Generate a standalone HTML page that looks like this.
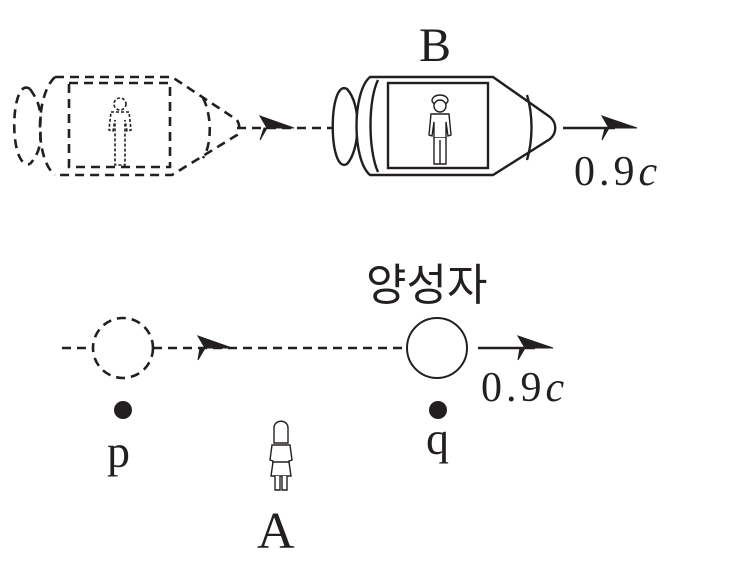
<!DOCTYPE html>
<html><head><meta charset="utf-8"><style>
html,body{margin:0;padding:0;background:#fff}
svg{display:block}
text{fill:#231f20}
</style></head><body>
<svg width="735" height="574" viewBox="0 0 735 574" xmlns="http://www.w3.org/2000/svg">
<g fill="none" stroke="#231f20" stroke-width="2.6" stroke-dasharray="9,6">
  <path d="M30 89 C10 75 8 170 30 164"/>
  <path d="M30 89 C38 100 42 110 40 127 C42 145 38 155 30 164"/>
  <path d="M55 77 C35 95 35 160 55 175"/>
  <path d="M55 77 L172 77 L237 120 C240 125 240 131 237 135 L172 175 L55 175"/>
  <path d="M203 98 C212 115 212 145 203 158"/>
  <rect x="69" y="83" width="101" height="84"/>
  <path d="M237 128 L357 128"/>
  <path d="M62 348 L92 348"/>
  <circle cx="123" cy="348" r="30"/>
  <path d="M153 348 L405 348"/>
</g>
<g fill="none" stroke="#231f20" stroke-width="1.6" stroke-dasharray="3,2">
  <circle cx="120" cy="104" r="6"/>
  <path d="M111 112 L129 112 L131 130 L127 131 L125 120 L125 165 L115 165 L115 120 L113 131 L109 130 Z"/>
</g>
<path d="M264 128 L294 128 L260 116 L267 128 L260 140 Z" fill="#231f20" stroke="#231f20" stroke-width="1"/>
<path d="M200 348 L232 348 L198 336 L205 348 L198 360 Z" fill="#231f20" stroke="#231f20" stroke-width="1"/>
<g fill="none" stroke="#231f20" stroke-width="2.4">
  <path d="M347 89 C328 78 328 175 347 164 C360 150 362 105 347 89 Z" fill="#fff"/>
  <path d="M370 77 L493 77 L550 117 C557 123 557 133 550 139 L493 175 L370 175 C352 160 352 92 370 77 Z" fill="#fff"/>
  <path d="M378 80 C368 100 368 150 378 172"/>
  <path d="M527 95 C533 115 533 140 527 160"/>
  <rect x="388" y="83" width="100" height="85"/>
  <path d="M563 128 L615 128"/>
  <path d="M478 348 L535 348"/>
</g>
<path d="M605 128 L637 128 L602 116 L609 128 L602 140 Z" fill="#231f20" stroke="#231f20" stroke-width="1"/>
<path d="M520 348 L553 348 L518 336 L525 348 L518 360 Z" fill="#231f20" stroke="#231f20" stroke-width="1"/>
<g fill="#fff" stroke="#231f20" stroke-width="1.4">
  <path d="M432 101 C432 93 448 93 448 101 L446 104 L434 104 Z"/>
  <circle cx="440" cy="106" r="6"/>
  <path d="M431 114 L449 114 L451 135 L448 136 L446 122 L446 138 L434 138 L434 122 L432 136 L429 135 Z"/>
  <path d="M434 138 L434 164 L446 164 L446 138"/>
  <path d="M440 140 L440 164"/>
</g>
<circle cx="437" cy="348" r="30" fill="#fff" stroke="#231f20" stroke-width="2"/>
<circle cx="123" cy="410" r="9" fill="#231f20"/>
<circle cx="438" cy="410" r="9" fill="#231f20"/>
<g fill="#fff" stroke="#231f20" stroke-width="1.4">
  <path d="M274 443 L274 428 C274 419 288 419 288 428 L288 443 Z"/>
  <path d="M272 445 L290 445 L292 460 L289 461 L289 465 L273 465 L273 461 L270 460 Z"/>
  <path d="M273 462 L289 462 L291 476 L271 476 Z"/>
  <path d="M275 476 L275 490 L280 490 L280 476 M282 476 L282 490 L287 490 L287 476"/>
</g>
<g font-family="'Liberation Serif', serif" font-size="48">
  <text x="419" y="61">B</text>
  <text x="257" y="548" font-size="52">A</text>
  <text x="107" y="467" font-size="46">p</text>
  <text x="426" y="454" font-size="46">q</text>
  <text x="574" y="185" font-size="42" letter-spacing="4">0.9<tspan font-style="italic" letter-spacing="0">c</tspan></text>
  <text x="481" y="401" font-size="42" letter-spacing="4">0.9<tspan font-style="italic" letter-spacing="0">c</tspan></text>
</g>
<text x="366" y="300" font-family="'Liberation Sans','Noto Sans CJK KR',sans-serif" font-size="44">양성자</text>
</svg>
</body></html>
